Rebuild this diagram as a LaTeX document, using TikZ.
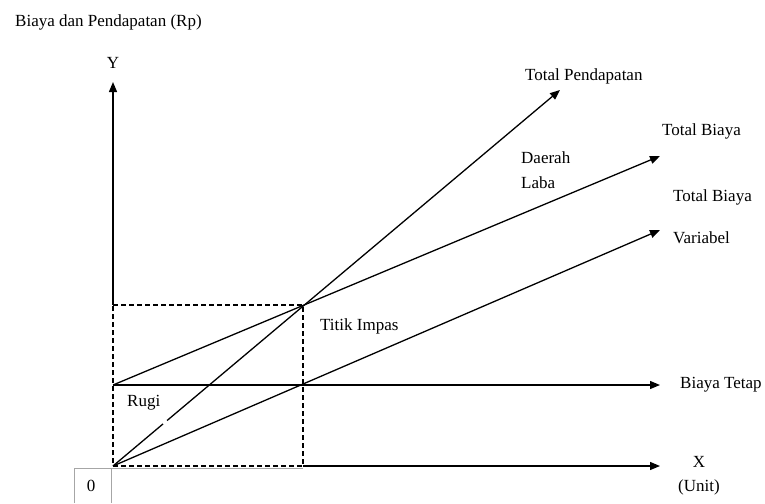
\documentclass[tikz,border=0pt]{standalone}
\usepackage{fontspec}
\setmainfont{Liberation Serif}
\usetikzlibrary{arrows.meta,calc}
\begin{document}
\begin{tikzpicture}[x=1pt,y=-1pt,
  axis/.style={line width=1.3pt,-{Triangle[length=10pt,width=8pt]}},
  plain/.style={line width=1.3pt},
  dashline/.style={line width=1.3pt,dash pattern=on 5pt off 3pt},
  cell/.style={draw=gray!70,line width=1pt},
  lbl/.style={anchor=base west,inner sep=0pt,font=\fontsize{17}{20}\selectfont},
  clbl/.style={anchor=base,inner sep=0pt,font=\fontsize{17}{20}\selectfont}]
\useasboundingbox (0,0) rectangle (765,503);
% key points
\coordinate (O) at (113,466);
\coordinate (F) at (113,385);
\coordinate (Q) at (113,305);
\coordinate (B) at (303,305);
\coordinate (V) at (303,385);
\coordinate (Xb) at (303,466);
\coordinate (Ytip) at (113,82);
\coordinate (Xtip) at (660,466);
\coordinate (FTtip) at (660,385);
\coordinate (TPtip) at (560,90);
\coordinate (TBtip) at (660,156);
\coordinate (TVtip) at (660,230);
% table cell with 0
\draw[cell] (74,503) -- (74,468) -- (303,468);
\draw[cell] (111,468) -- (111,503);
\node[clbl] (zero) at (91,491) {0};
% dashed rectangle
\draw[dashline] (Q) -- (B) -- (Xb) -- (O) -- cycle;
% axes
\draw[axis] (Q) -- (Ytip);
\draw[axis] (Xb) -- (Xtip);
\draw[axis] (F) -- (FTtip);
% lines
\draw[plain] (O) -- ($(O)!0.112!(TPtip)$);
\draw[axis] ($(O)!0.121!(TPtip)$) -- (TPtip);
\draw[axis] (F) -- (TBtip);
\draw[axis] (O) -- (TVtip);
% labels
\node[lbl] (title) at (15,27) {Biaya dan Pendapatan (Rp)};
\node[clbl] (ylbl) at (113,69) {Y};
\node[lbl] (tp) at (525,81) {Total Pendapatan};
\node[lbl] (tb) at (662,135) {Total Biaya};
\node[lbl] (dl1) at (521,163) {Daerah};
\node[lbl] (dl2) at (521,188) {Laba};
\node[lbl] (tv1) at (673,201) {Total Biaya};
\node[lbl] (tv2) at (673,243) {Variabel};
\node[lbl] (ti) at (320,330) {Titik Impas};
\node[lbl] (bt) at (680,388) {Biaya Tetap};
\node[lbl] (rugi) at (127,406) {Rugi};
\node[clbl] (xlbl) at (699,467) {X};
\node[clbl] (unit) at (699,491) {(Unit)};
\end{tikzpicture}
\end{document}
